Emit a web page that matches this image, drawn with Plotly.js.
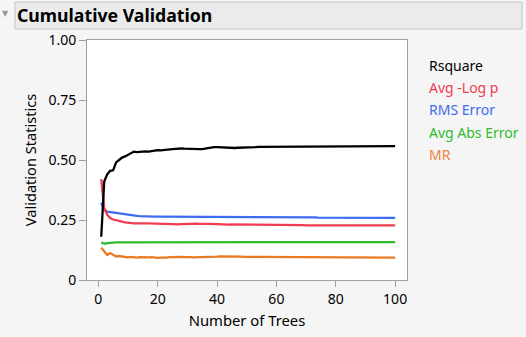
<!DOCTYPE html>
<html><head><meta charset="utf-8">
<script src="https://cdn.plot.ly/plotly-3.0.1.min.js"></script>
<style>html,body{margin:0;padding:0;background:#f5f5f5;}#chart{width:526px;height:337px;}</style>
</head><body><div id="chart"></div>
<script>
const seriesNames = ["Rsquare", "Avg -Log p", "RMS Error", "Avg Abs Error", "MR"];
const seriesColors = ["#000000", "#f03c50", "#3d6cf2", "#2ebc2e", "#ea7a22"];
const legendColors = ["#000000", "#f03c50", "#3d6cf2", "#2ebc2e", "#f08040"];
const trees = Array.from({length: 100}, (_, i) => i + 1);
const yTickVals = [0, 0.25, 0.5, 0.75, 1];
const yTickText = ["0", "0.25", "0.50", "0.75", "1.00"];
const xTickVals = [0, 20, 40, 60, 80, 100];

const rsquare = [
 0.180,0.410,0.440,0.455,0.457,0.490,0.500,0.510,0.515,0.522,
 0.530,0.535,0.533,0.535,0.534,0.536,0.535,0.538,0.540,0.541,
 0.540,0.542,0.543,0.544,0.545,0.546,0.548,0.548,0.547,0.546,
 0.545,0.547,0.546,0.545,0.545,0.548,0.551,0.553,0.554,0.554,
 0.553,0.553,0.552,0.551,0.550,0.550,0.551,0.551,0.552,0.553,
 0.553,0.554,0.554,0.555,0.555,0.556,0.556,0.555,0.556,0.556,
 0.555,0.556,0.556,0.555,0.555,0.556,0.556,0.557,0.557,0.557,
 0.558,0.558,0.558,0.557,0.557,0.557,0.556,0.556,0.557,0.557,
 0.557,0.557,0.557,0.556,0.557,0.558,0.558,0.558,0.558,0.558,
 0.558,0.558,0.558,0.557,0.557,0.558,0.558,0.558,0.558,0.558];
const avgLogP = [
 0.420,0.300,0.272,0.258,0.252,0.248,0.245,0.243,0.240,0.238,
 0.237,0.236,0.236,0.235,0.235,0.236,0.236,0.235,0.236,0.236,
 0.235,0.234,0.234,0.233,0.233,0.232,0.232,0.233,0.234,0.235,
 0.236,0.236,0.235,0.234,0.233,0.233,0.234,0.234,0.233,0.232,
 0.232,0.232,0.231,0.231,0.232,0.232,0.231,0.231,0.230,0.230,
 0.231,0.231,0.230,0.230,0.230,0.231,0.230,0.230,0.229,0.229,
 0.230,0.230,0.229,0.229,0.229,0.230,0.229,0.229,0.229,0.228,
 0.228,0.228,0.228,0.229,0.229,0.228,0.228,0.228,0.228,0.228,
 0.228,0.228,0.229,0.228,0.228,0.228,0.228,0.228,0.228,0.228,
 0.228,0.228,0.228,0.228,0.228,0.228,0.228,0.228,0.228,0.228];
const rmsError = [
 0.322,0.292,0.285,0.283,0.280,0.278,0.276,0.274,0.272,0.271,
 0.270,0.268,0.267,0.266,0.265,0.265,0.264,0.264,0.264,0.264,
 0.264,0.264,0.263,0.263,0.264,0.264,0.264,0.264,0.264,0.264,
 0.264,0.264,0.263,0.263,0.263,0.264,0.264,0.264,0.264,0.264,
 0.264,0.264,0.264,0.264,0.264,0.263,0.263,0.263,0.263,0.263,
 0.263,0.262,0.262,0.262,0.262,0.262,0.262,0.262,0.262,0.262,
 0.262,0.262,0.262,0.262,0.262,0.261,0.261,0.261,0.261,0.261,
 0.261,0.261,0.261,0.260,0.260,0.260,0.260,0.260,0.260,0.260,
 0.260,0.260,0.260,0.260,0.260,0.260,0.260,0.260,0.260,0.260,
 0.260,0.260,0.259,0.259,0.259,0.259,0.259,0.259,0.259,0.259];
const avgAbsError = [
 0.157,0.151,0.154,0.156,0.157,0.157,0.157,0.157,0.158,0.158,
 0.158,0.158,0.158,0.158,0.158,0.158,0.158,0.158,0.158,0.158,
 0.158,0.158,0.158,0.158,0.158,0.158,0.158,0.158,0.158,0.158,
 0.158,0.158,0.158,0.158,0.158,0.158,0.158,0.158,0.158,0.158,
 0.158,0.158,0.158,0.158,0.158,0.158,0.158,0.158,0.158,0.158,
 0.158,0.158,0.158,0.158,0.158,0.158,0.158,0.158,0.158,0.158,
 0.158,0.158,0.158,0.158,0.158,0.158,0.158,0.158,0.158,0.158,
 0.158,0.158,0.158,0.158,0.158,0.158,0.158,0.158,0.158,0.158,
 0.158,0.158,0.158,0.158,0.158,0.158,0.158,0.158,0.158,0.158,
 0.158,0.158,0.158,0.158,0.158,0.158,0.158,0.158,0.158,0.158];
const mr = [
 0.135,0.118,0.104,0.112,0.106,0.098,0.100,0.097,0.095,0.094,
 0.096,0.094,0.093,0.095,0.094,0.093,0.094,0.095,0.093,0.092,
 0.093,0.092,0.093,0.095,0.096,0.095,0.095,0.096,0.095,0.096,
 0.095,0.094,0.094,0.095,0.095,0.096,0.097,0.097,0.096,0.097,
 0.098,0.098,0.099,0.100,0.100,0.099,0.098,0.097,0.096,0.095,
 0.095,0.096,0.096,0.096,0.095,0.095,0.096,0.096,0.095,0.095,
 0.095,0.094,0.094,0.095,0.095,0.094,0.094,0.094,0.094,0.093,
 0.093,0.094,0.094,0.093,0.093,0.093,0.094,0.094,0.093,0.093,
 0.093,0.093,0.094,0.094,0.093,0.093,0.093,0.094,0.094,0.093,
 0.093,0.093,0.093,0.094,0.093,0.093,0.093,0.093,0.093,0.093];

const allSeries = [rsquare, avgLogP, rmsError, avgAbsError, mr];
const drawOrder = [4, 3, 2, 1, 0];

const FONT = "'Noto Sans', 'Open Sans', sans-serif";
const traces = drawOrder.map(i => ({
  type: 'scatter', mode: 'lines', x: trees, y: allSeries[i], name: seriesNames[i],
  line: {color: seriesColors[i], width: 2.3}, hoverinfo: 'skip'
}));

const plotL = 87, plotR = 407, plotT = 40, plotB = 280, W = 526, H = 337;
const px2x = p => (p - plotL) / (plotR - plotL);
const py2y = p => (plotB - p) / (plotB - plotT);

const annotations = seriesNames.map((n, i) => ({
  xref: 'paper', yref: 'paper', x: px2x(427), y: py2y(66 + i * 22),
  xanchor: 'left', yanchor: 'middle', showarrow: false, text: n,
  font: {family: FONT, size: 14, color: legendColors[i]}
}));
annotations.push({
  xref: 'paper', yref: 'paper', x: px2x(5), y: py2y(14), xanchor: 'center', yanchor: 'middle',
  showarrow: false, text: '▼', font: {family: 'DejaVu Sans', size: 8, color: '#9a9a9a'}
});

const layout = {
  width: W, height: H,
  paper_bgcolor: '#f5f5f5', plot_bgcolor: '#ffffff',
  margin: {l: plotL, r: W - plotR, t: plotT, b: H - plotB, pad: 0},
  showlegend: false,
  title: {text: '<b>Cumulative Validation</b>', xref: 'container', yref: 'container',
          x: 17 / W, xanchor: 'left', y: 1 - 15.5 / H, yanchor: 'middle',
          font: {family: FONT, size: 17.7, color: '#000'}},
  xaxis: {range: [-3.8, 104], tickvals: xTickVals, ticks: 'outside', ticklen: 6, tickcolor: '#a0a0a0',
          showline: true, linecolor: '#a0a0a0', linewidth: 1, mirror: true, showgrid: false, zeroline: false,
          tickfont: {family: FONT, size: 14, color: '#000'},
          title: {text: 'Number of Trees', font: {family: FONT, size: 14.8, color: '#000'}, standoff: 8}},
  yaxis: {range: [0, 1], tickvals: yTickVals, ticktext: yTickText, ticks: 'outside', ticklen: 7, tickcolor: '#a0a0a0',
          showline: true, linecolor: '#a0a0a0', linewidth: 1, mirror: true, showgrid: false, zeroline: false,
          tickfont: {family: FONT, size: 14, color: '#000'},
          title: {text: 'Validation Statistics', font: {family: FONT, size: 14.6, color: '#000'}, standoff: 8}},
  shapes: [{type: 'rect', xref: 'paper', yref: 'paper', x0: px2x(15), x1: px2x(522), y0: py2y(2), y1: py2y(29),
            fillcolor: '#ebebeb', line: {color: '#c4c4c4', width: 1}, layer: 'below'}],
  annotations: annotations
};
Plotly.newPlot('chart', traces, layout, {staticPlot: true, displayModeBar: false});
</script></body></html>
